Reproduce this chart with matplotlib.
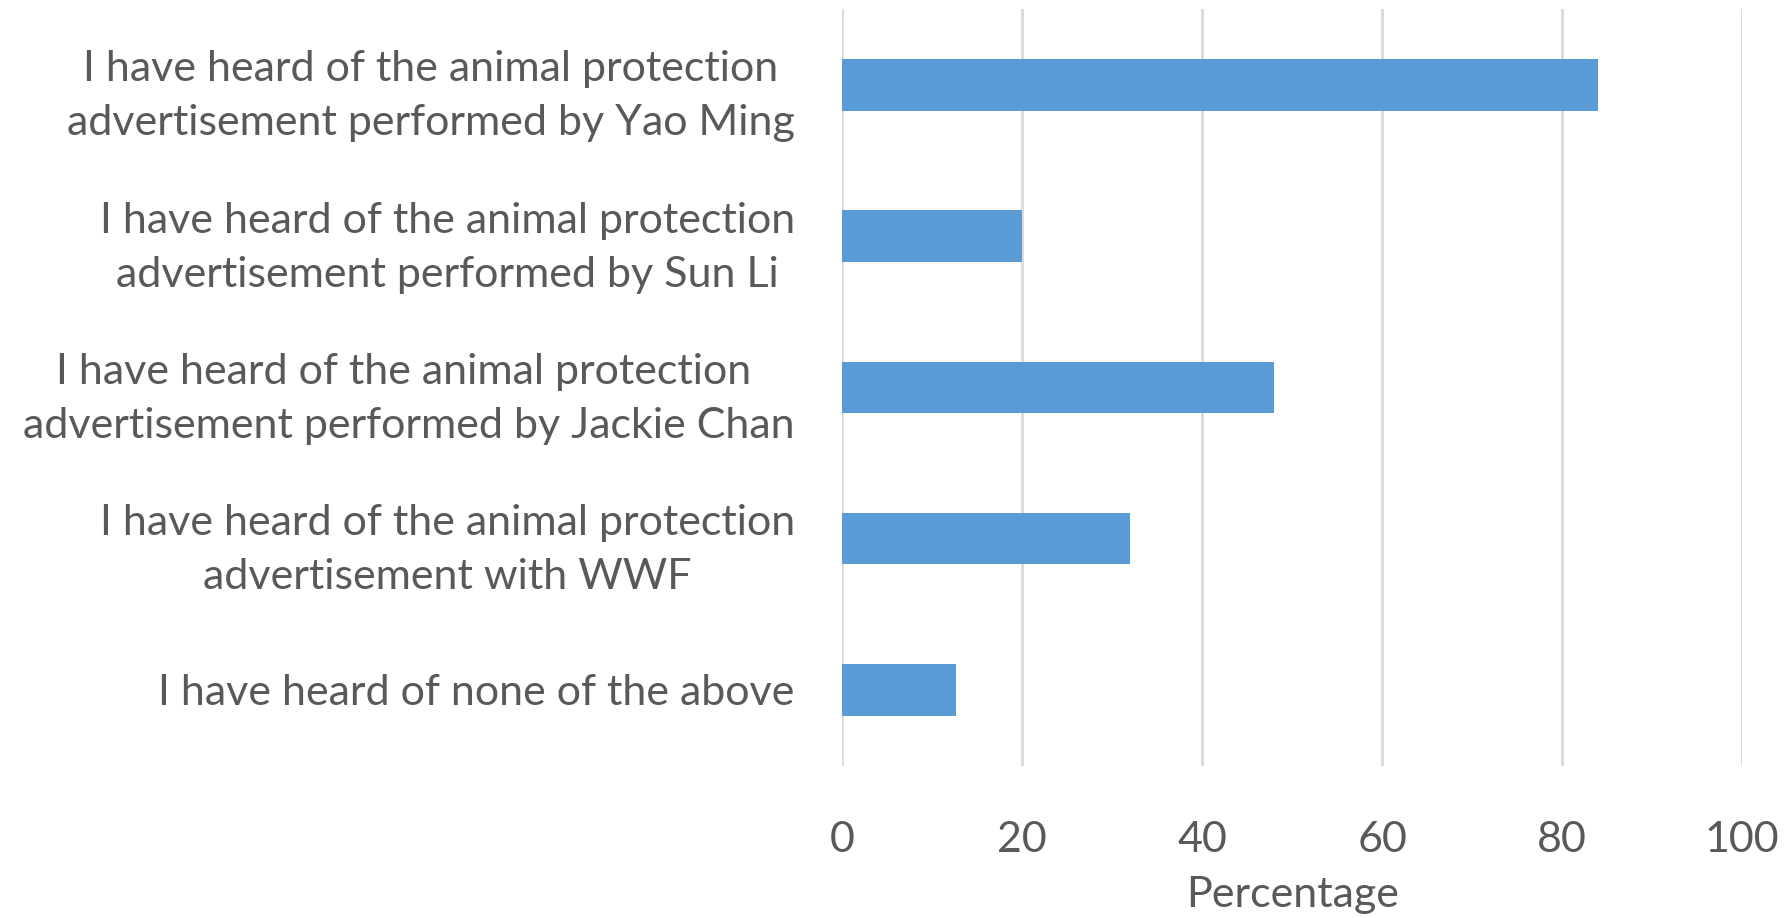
import matplotlib
matplotlib.use("Agg")
import matplotlib.pyplot as plt

# survey answers, top to bottom as shown
categories = [
    "I have heard of the animal protection\nadvertisement performed by Yao Ming",
    "I have heard of the animal protection\nadvertisement performed by Sun Li",
    "I have heard of the animal protection \nadvertisement performed by Jackie Chan",
    "I have heard of the animal protection\nadvertisement with WWF",
    "I have heard of none of the above",
]
percentages = [84, 20, 48, 32, 12.7]
x_ticks = [0, 20, 40, 60, 80, 100]

plt.rcParams['font.family'] = ['Lato', 'DejaVu Sans']
text_color = '#595959'
fs = 31

fig = plt.figure(figsize=(17.85, 9.18), dpi=100)
ax = fig.add_axes([0.4717, 0.166, 0.5043, 0.824])

positions = list(range(len(categories)))[::-1]
ax.barh(positions, percentages, height=0.34, color='#5B9BD5', zorder=3)

ax.set_xlim(0, 100)
ax.set_ylim(-0.5, len(categories) - 0.5)
ax.set_xticks(x_ticks)
ax.set_xticklabels([str(t) for t in x_ticks], fontsize=fs, color=text_color)
ax.set_yticks(positions)
ax.set_yticklabels(categories, fontsize=fs, color=text_color, multialignment='center',
                   linespacing=1.52)

ax.grid(axis='x', color='#D9D9D9', linewidth=2, zorder=0)
ax.tick_params(axis='both', length=0)
ax.tick_params(axis='x', pad=40)
ax.tick_params(axis='y', pad=34)
for s in ax.spines.values():
    s.set_visible(False)

ax.set_xlabel('Percentage', fontsize=fs, color=text_color, labelpad=12)

fig.savefig('out.png', dpi=100)
